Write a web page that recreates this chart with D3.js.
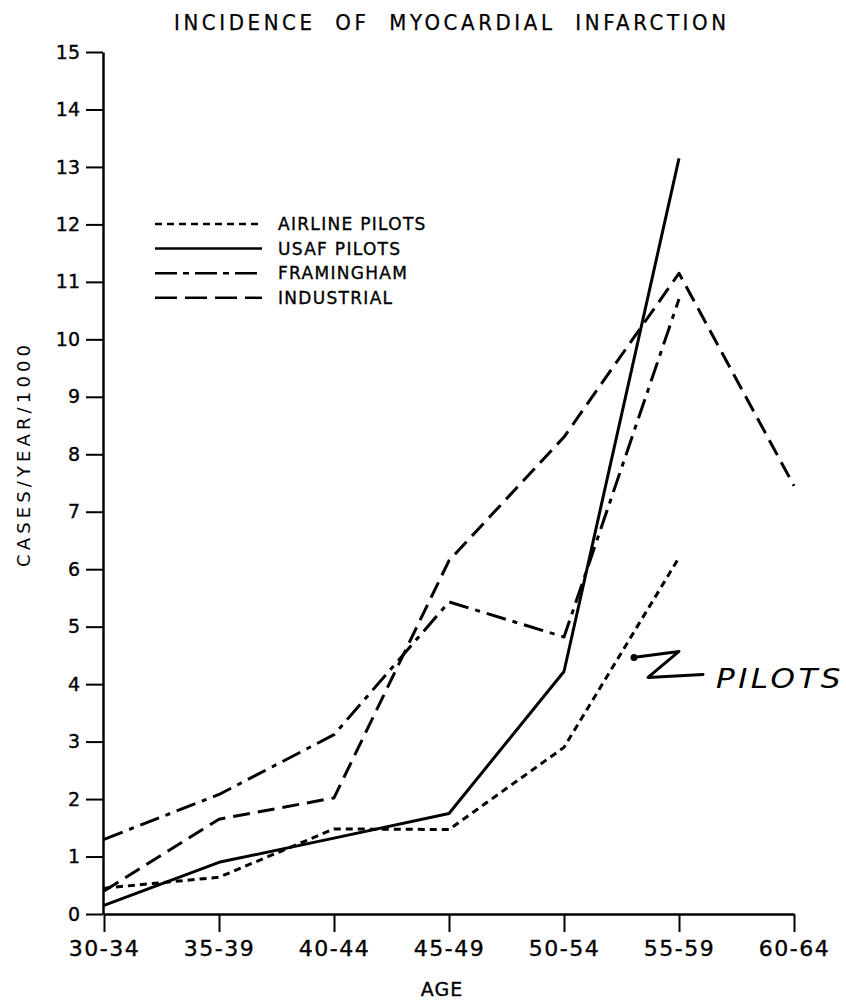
<!DOCTYPE html>
<html>
<head>
<meta charset="utf-8">
<script src="https://cdn.jsdelivr.net/npm/d3@7"></script>
<style>
  body { margin: 0; background: #fff; }
  svg { display: block; font-family: "DejaVu Sans", sans-serif; }
  .ink { stroke: #000; stroke-width: 0.35px; }
</style>
</head>
<body>
<div id="wrapper"></div>
<script>
// data (cases / year / 1000)
const ageGroups = ["30-34", "35-39", "40-44", "45-49", "50-54", "55-59", "60-64"];
const airlinePilots = [0.45, 0.64, 1.48, 1.47, 2.9, 6.2];
const usafPilots = [0.15, 0.9, 1.32, 1.75, 4.22, 13.15];
const framingham = [1.3, 2.08, 3.12, 5.43, 4.82, 10.7];
const industrial = [0.4, 1.65, 2.02, 6.15, 8.3, 11.15, 7.45];
const yTicks = [0, 1, 2, 3, 4, 5, 6, 7, 8, 9, 10, 11, 12, 13, 14, 15];

const seriesNames = ["AIRLINE PILOTS", "USAF PILOTS", "FRAMINGHAM", "INDUSTRIAL"];
const seriesValues = [airlinePilots, usafPilots, framingham, industrial];
const dashes = ["7,5", null, "20,7,5,7", "17,8"];
const legendDashes = ["7,5", null, "22,6,6,6", "22,8"];

function drawChart() {
  //* dimensions
  const dimensions = {
    width: 846,
    height: 1002,
    axisX: 103,
    axisY: 914,
  };

  const svg = d3
    .select("#wrapper")
    .append("svg")
    .attr("width", dimensions.width)
    .attr("height", dimensions.height);

  //* scales
  const xScale = d3.scalePoint().domain(ageGroups).range([104, 794]);
  const yScale = d3.scaleLinear().domain([0, 15]).range([914, 52]);

  //* axes
  const yAxis = svg
    .append("g")
    .attr("transform", `translate(${dimensions.axisX},0)`)
    .call(d3.axisLeft(yScale).tickValues(yTicks).tickSize(17).tickSizeOuter(0).tickPadding(6));
  yAxis.select(".domain").attr("stroke-width", 2.5);
  yAxis.selectAll(".tick line").attr("stroke-width", 2);
  yAxis
    .selectAll(".tick text")
    .attr("class", "ink")
    .attr("fill", "#000")
    .style("font-family", "DejaVu Sans")
    .style("font-size", "19px");

  const xAxis = svg
    .append("g")
    .attr("transform", `translate(0,${dimensions.axisY})`)
    .call(d3.axisBottom(xScale).tickSize(18).tickSizeOuter(0).tickPadding(8));
  xAxis.select(".domain").attr("stroke-width", 2.5);
  xAxis.selectAll(".tick line").attr("stroke-width", 2);
  xAxis
    .selectAll(".tick text")
    .attr("class", "ink")
    .attr("fill", "#000")
    .style("font-family", "DejaVu Sans")
    .style("font-size", "22px")
    .style("letter-spacing", "1.5px");

  //* lines
  const line = d3
    .line()
    .x((d, i) => xScale(ageGroups[i]))
    .y((d) => yScale(d));

  svg
    .append("g")
    .selectAll("path")
    .data(seriesValues)
    .join("path")
    .attr("d", line)
    .attr("fill", "none")
    .attr("stroke", "#000")
    .attr("stroke-width", 3)
    .attr("stroke-linejoin", "round")
    .attr("stroke-dasharray", (d, i) => dashes[i]);

  //* legend
  const legend = svg
    .append("g")
    .selectAll("g")
    .data(seriesNames)
    .join("g")
    .attr("transform", (d, i) => `translate(155,${224 + i * 24.6})`);
  legend
    .append("line")
    .attr("x1", 0)
    .attr("x2", 107)
    .attr("stroke", "#000")
    .attr("stroke-width", 2.5)
    .attr("stroke-dasharray", (d, i) => legendDashes[i]);
  legend
    .append("text")
    .attr("class", "ink")
    .attr("x", 123)
    .attr("dy", "0.36em")
    .style("font-size", "17px")
    .style("letter-spacing", "1.3px")
    .text((d) => d);

  //* labels
  svg
    .append("text")
    .attr("x", 450)
    .attr("y", 30)
    .attr("text-anchor", "middle")
    .attr("textLength", 552)
    .attr("lengthAdjust", "spacing")
    .style("white-space", "pre")
    .style("font-family", "DejaVu Sans Condensed, DejaVu Sans")
    .style("font-size", "22px")
    .style("stroke", "#000")
    .style("stroke-width", "0.25px")
    .text("INCIDENCE  OF  MYOCARDIAL  INFARCTION");

  svg
    .append("text")
    .attr("transform", "translate(30,456) rotate(-90)")
    .attr("text-anchor", "middle")
    .attr("textLength", 222)
    .attr("lengthAdjust", "spacing")
    .style("font-size", "18px")
    .text("CASES/YEAR/1000");

  svg
    .append("text")
    .attr("class", "ink")
    .attr("x", 442)
    .attr("y", 996)
    .attr("text-anchor", "middle")
    .style("font-size", "19px")
    .style("letter-spacing", "1px")
    .text("AGE");

  //* handwritten note
  const ax = xScale("55-59");
  const ay = yScale(4.5);
  const note = svg.append("g").attr("transform", `translate(${ax},${ay})`);
  note
    .append("path")
    .attr("d", "M-46,2 L0,-4 L-31,22 L24,19")
    .attr("fill", "none")
    .attr("stroke", "#000")
    .attr("stroke-width", 3)
    .attr("stroke-linejoin", "round")
    .attr("stroke-linecap", "round");
  note
    .append("circle")
    .attr("cx", -45)
    .attr("cy", 2)
    .attr("r", 3.5);
  note
    .append("text")
    .attr("x", 37)
    .attr("y", 33)
    .attr("textLength", 128)
    .attr("lengthAdjust", "spacingAndGlyphs")
    .style("font-size", "27px")
    .style("font-style", "italic")
    .style("letter-spacing", "3px")
    .text("PILOTS");
}

drawChart();
</script>
</body>
</html>
